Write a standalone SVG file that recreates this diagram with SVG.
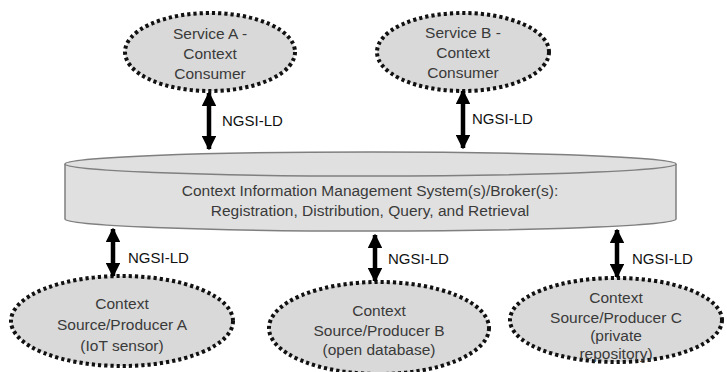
<svg xmlns="http://www.w3.org/2000/svg" width="727" height="372" viewBox="0 0 727 372">
<defs>
<style>
.node{fill:#d9d9d9;stroke:#111;stroke-width:4;stroke-dasharray:3.2 3;}
.cyl{fill:#e0e0e0;stroke:#7f7f7f;stroke-width:1.5;}
.t{font-family:"Liberation Sans",Arial,sans-serif;font-size:15.5px;fill:#3a3a3a;text-anchor:middle;dominant-baseline:central;}
.lbl{font-family:"Liberation Sans",Arial,sans-serif;font-size:15px;fill:#111;dominant-baseline:central;}
.arr{stroke:#000;stroke-width:4.5;fill:none;marker-start:url(#ah);marker-end:url(#ah);}
</style>
<marker id="ah" viewBox="0 0 10 10" refX="9" refY="5" markerWidth="3.2" markerHeight="3.2" orient="auto-start-reverse" markerUnits="strokeWidth">
<path d="M0,0 L10,5 L0,10 Z" fill="#000"/>
</marker>
</defs>
<g id="broker">
<path class="cyl" d="M65,164 L65,219 A305.5,12 0 0 0 676,219 L676,164 A305.5,12 0 0 0 65,164 Z"/>
<path class="cyl" d="M65,164 A305.5,12 0 0 0 676,164" fill="none"/>
<text class="t" x="370" y="190">Context Information Management System(s)/Broker(s):</text>
<text class="t" x="370" y="210">Registration, Distribution, Query, and Retrieval</text>
</g>
<g id="serviceA">
<ellipse class="node" cx="210" cy="52" rx="85" ry="39"/>
<text class="t" x="210" y="33">Service A -</text>
<text class="t" x="210" y="53">Context</text>
<text class="t" x="210" y="73">Consumer</text>
</g>
<g id="serviceB">
<ellipse class="node" cx="463" cy="52" rx="86" ry="39"/>
<text class="t" x="463" y="32">Service B -</text>
<text class="t" x="463" y="52">Context</text>
<text class="t" x="463" y="72">Consumer</text>
</g>
<g id="producerA">
<ellipse class="node" cx="122" cy="321" rx="111" ry="45"/>
<text class="t" x="122" y="303">Context</text>
<text class="t" x="122" y="324">Source/Producer A</text>
<text class="t" x="122" y="345">(IoT sensor)</text>
</g>
<g id="producerB">
<ellipse class="node" cx="379" cy="328" rx="110" ry="46"/>
<text class="t" x="379" y="310">Context</text>
<text class="t" x="379" y="330">Source/Producer B</text>
<text class="t" x="379" y="349">(open database)</text>
</g>
<g id="producerC">
<ellipse class="node" cx="616" cy="320" rx="106" ry="42"/>
<text class="t" x="616" y="297">Context</text>
<text class="t" x="616" y="317">Source/Producer C</text>
<text class="t" x="616" y="335">(private</text>
<text class="t" x="616" y="353">repository)</text>
</g>
<g id="connectors">
<line class="arr" x1="209" y1="93" x2="209" y2="149"/>
<line class="arr" x1="463" y1="91" x2="463" y2="148"/>
<line class="arr" x1="113" y1="229" x2="113" y2="276"/>
<line class="arr" x1="375" y1="235" x2="375" y2="281"/>
<line class="arr" x1="617" y1="230" x2="617" y2="277"/>
<text class="lbl" x="222" y="120">NGSI-LD</text>
<text class="lbl" x="472" y="118">NGSI-LD</text>
<text class="lbl" x="128" y="257">NGSI-LD</text>
<text class="lbl" x="388" y="258">NGSI-LD</text>
<text class="lbl" x="632" y="258">NGSI-LD</text>
</g>
</svg>
